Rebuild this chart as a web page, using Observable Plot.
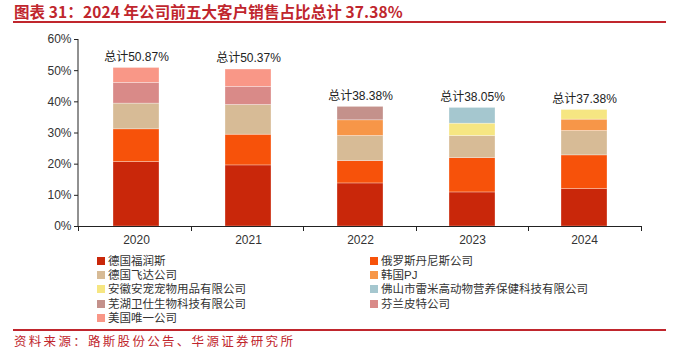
<!DOCTYPE html>
<html>
<head>
<meta charset="utf-8">
<script src="https://cdn.jsdelivr.net/npm/d3@7"></script>
<script src="https://cdn.jsdelivr.net/npm/@observablehq/plot@0.6"></script>
<style>
  html, body { margin: 0; padding: 0; background: #fff; }
  #wrap { position: relative; width: 678px; height: 354px; overflow: hidden; background: #fff; }
  #title { position: absolute; left: 14px; top: 2px; font: bold 15.5px/18px "Noto Sans CJK SC", "Liberation Sans", sans-serif; color: #c0262d; white-space: nowrap; letter-spacing: 0.1px; }
  .rule { position: absolute; left: 13px; width: 653px; height: 2px; background: #c0262d; }
  #chart { position: absolute; left: 0; top: 24px; }
  #legend { position: absolute; left: 0; top: 253px; width: 678px; height: 72px; }
  .li { position: absolute; font: 11.5px/14px "Liberation Sans", "Noto Sans CJK SC", sans-serif; color: #333; white-space: nowrap; }
  .li i { position: absolute; left: -11px; top: 3px; width: 8px; height: 8px; }
  #source { position: absolute; left: 14px; top: 333px; font: 12.5px/16px "Noto Sans CJK SC", sans-serif; color: #c0262d; letter-spacing: 2.3px; white-space: nowrap; }
</style>
</head>
<body>
<div id="wrap">
  <div id="title"></div>
  <div class="rule" style="top:21px"></div>
  <div id="chart"></div>
  <div id="legend"></div>
  <div class="rule" style="top:329px"></div>
  <div id="source"></div>
</div>
<script>
const titleText = "图表 31：2024 年公司前五大客户销售占比总计 37.38%";
const sourceText = "资料来源：路斯股份公告、华源证券研究所";

const years = ["2020", "2021", "2022", "2023", "2024"];
const customers = [
  "德国福润斯", "俄罗斯丹尼斯公司", "德国飞达公司", "韩国PJ",
  "安徽安宠宠物用品有限公司", "佛山市雷米高动物营养保健科技有限公司",
  "芜湖卫仕生物科技有限公司", "芬兰皮特公司", "美国唯一公司"
];
const customerColors = [
  "#c9270a", "#f7520a", "#d7bb96", "#f79648",
  "#f6e682", "#a5c7cf", "#c4918b", "#d98a88", "#f99787"
];

// sales share (%) by year; null = not among the top five that year
const fuRunSi      = [20.68, 19.60, 13.82, 10.93, 12.00];
const eLuoSi       = [10.50,  9.86,  7.18, 11.03, 10.82];
const feiDa        = [ 8.25,  9.54,  8.04,  7.08,  7.82];
const hanGuoPJ     = [ null,  null,  5.03,  null,  3.65];
const anHuiAnChong = [ null,  null,  null,  3.96,  3.09];
const foShanLeiMi  = [ null,  null,  null,  5.05,  null];
const wuHuWeiShi   = [ null,  null,  4.31,  null,  null];
const fenLanPiTe   = [ 6.64,  5.79,  null,  null,  null];
const meiGuoWeiYi  = [ 4.80,  5.58,  null,  null,  null];
const totals       = [50.87, 50.37, 38.38, 38.05, 37.38];

const yTicks = [0, 10, 20, 30, 40, 50, 60];

const seriesValues = [fuRunSi, eLuoSi, feiDa, hanGuoPJ, anHuiAnChong, foShanLeiMi, wuHuWeiShi, fenLanPiTe, meiGuoWeiYi];
const rows = [];
customers.forEach((c, ci) => {
  years.forEach((y, yi) => {
    const v = seriesValues[ci][yi];
    if (v != null) rows.push({year: y, customer: c, value: v});
  });
});
const totalRows = years.map((y, i) => ({year: y, total: totals[i]}));

document.getElementById("title").textContent = titleText;
document.getElementById("source").textContent = sourceText;

function axesMark(...args) {
  const dims = args.find(a => a && typeof a === "object" && "marginLeft" in a && "width" in a);
  const {width, height, marginLeft, marginRight, marginBottom, marginTop} = dims;
  const g = d3.create("svg:g").attr("stroke", "#222").attr("stroke-width", 1).attr("fill", "none");
  const x0 = marginLeft, x1 = width - marginRight, yb = height - marginBottom;
  g.append("line").attr("x1", x0).attr("x2", x0).attr("y1", marginTop).attr("y2", yb + 0.5);
  g.append("line").attr("x1", x0).attr("x2", x1).attr("y1", yb + 0.5).attr("y2", yb + 0.5);
  const n = years.length;
  for (let i = 0; i <= n; i++) {
    const x = Math.round(x0 + (x1 - x0) * i / n) + 0.5;
    g.append("line").attr("x1", x).attr("x2", x).attr("y1", yb).attr("y2", yb + 5);
  }
  return g.node();
}

const plot = Plot.plot({
  width: 678,
  height: 228,
  marginLeft: 78,
  marginRight: 37,
  marginTop: 15,
  marginBottom: 26,
  style: {fontFamily: "'Liberation Sans', Arial, sans-serif", fontSize: "12px", color: "#333", background: "transparent"},
  x: {domain: years, paddingInner: 0.59, paddingOuter: 0.295, label: null},
  y: {domain: [0, 60], label: null},
  color: {domain: customers, range: customerColors},
  marks: [
    Plot.barY(rows, {x: "year", y: "value", fill: "customer", stroke: "#fff", strokeOpacity: 0.5, strokeWidth: 0.6}),
    Plot.axisY({ticks: yTicks, tickFormat: d => d + "%", tickSize: 4, tickPadding: 3, stroke: "#222", fill: "#333", fontSize: 12, label: null}),
    Plot.axisX({tickSize: 0, tickPadding: 9, fill: "#333", fontSize: 12, label: null}),
    Plot.text(totalRows, {x: "year", y: "total", text: d => "总计" + d.total.toFixed(2) + "%", dy: -11, fill: "#222", fontSize: 12, fontFamily: "'Liberation Sans', 'Noto Sans CJK SC', sans-serif"}),
    axesMark
  ]
});
document.getElementById("chart").appendChild(plot);

// legend (two columns, row-major)
const legend = document.getElementById("legend");
const colX = [108, 381];
const rowY0 = 1, rowStep = 14.2;
customers.forEach((c, i) => {
  const col = i % 2, row = Math.floor(i / 2);
  const div = document.createElement("div");
  div.className = "li";
  div.style.left = colX[col] + "px";
  div.style.top = (rowY0 + row * rowStep) + "px";
  const sw = document.createElement("i");
  sw.style.background = customerColors[i];
  div.appendChild(sw);
  div.appendChild(document.createTextNode(c));
  legend.appendChild(div);
});
</script>
</body>
</html>
